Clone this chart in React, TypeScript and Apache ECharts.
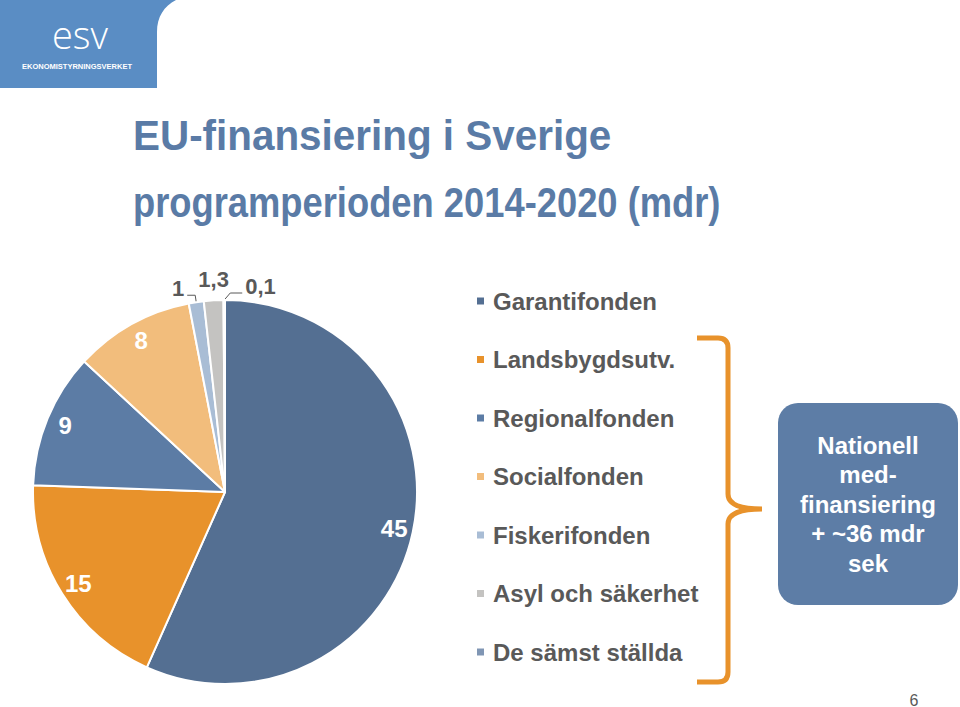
import React, { useEffect, useRef } from "react";
import * as echarts from "echarts";

const categories = [
  "Garantifonden",
  "Landsbygdsutv.",
  "Regionalfonden",
  "Socialfonden",
  "Fiskerifonden",
  "Asyl och säkerhet",
  "De sämst ställda",
];
const values = [45, 15, 9, 8, 1, 1.3, 0.1];
const colors = ["#546F92", "#E8922B", "#5C7CA5", "#F2BD7C", "#A9BDD5", "#C4C3C1", "#8096B4"];
const titleLines = ["EU-finansiering i Sverige", "programperioden 2014-2020 (mdr)"];
const boxLines = ["Nationell", "med-", "finansiering", "+ ~36 mdr", "sek"];
const logoWord = "esv";
const logoName = "EKONOMISTYRNINGSVERKET";
const pageNumber = "6";

const FONT = "'Liberation Sans', Arial, Helvetica, sans-serif";
const CX = 225;
const CY = 492;
const R = 192;

echarts.graphic.registerShape(
  "logoBg",
  echarts.graphic.extendPath("M0,0 L176,0 C164,6 157,17 157,32 L157,88 L0,88 Z", {})
);
echarts.graphic.registerShape(
  "brace",
  echarts.graphic.extendPath(
    "M697,338 L718,338 Q728,338 728,348 L728,494 Q728,509 762,509 Q728,509 728,524 L728,672 Q728,682 718,682 L697,682",
    {}
  )
);

const fmt = (v: number) => String(v).replace(".", ",");

// point on the pie rim at the middle angle of slice i (clockwise from 12 o'clock)
const rimPoint = (i: number, r: number) => {
  const total = values.reduce((s, v) => s + v, 0);
  const before = values.slice(0, i).reduce((s, v) => s + v, 0);
  const ang = ((before + values[i] / 2) / total) * Math.PI * 2;
  return [CX + r * Math.sin(ang), CY - r * Math.cos(ang)];
};

export default function App() {
  const ref = useRef<HTMLDivElement>(null);
  useEffect(() => {
    document.body.style.margin = "0";
    const chart = echarts.init(ref.current!, null, { renderer: "svg" });
    const data = categories.map((name, i) => ({
      name,
      value: values[i],
      itemStyle: { color: colors[i] },
    }));
    const mainData = data.map((d, i) => ({
      ...d,
      label: { show: i >= 4 },
      labelLine: {
        show: i >= 4,
        lineStyle: { opacity: i === 5 ? 0 : 1 },
      },
    }));
    const labelData = data.map((d, i) => ({
      name: d.name,
      value: d.value,
      label: { show: i < 4 },
    }));
    chart.setOption({
      animation: false,
      backgroundColor: "#ffffff",
      legend: {
        orient: "vertical",
        left: 475,
        top: 289,
        padding: 0,
        itemWidth: 9,
        itemHeight: 9,
        itemGap: 34.5,
        icon: "rect",
        selectedMode: false,
        data: categories,
        textStyle: {
          color: "#595959",
          fontSize: 24,
          fontWeight: "bold",
          fontFamily: FONT,
          lineHeight: 24,
          padding: [0, 0, 0, 3],
        },
      },
      series: [
        {
          type: "pie",
          center: [CX, CY],
          radius: R,
          startAngle: 90,
          clockwise: true,
          silent: true,
          avoidLabelOverlap: false,
          emphasis: { disabled: true },
          itemStyle: { borderColor: "#ffffff", borderWidth: 2 },
          label: {
            position: "outside",
            color: "#595959",
            fontSize: 22,
            fontWeight: "bold",
            fontFamily: FONT,
            formatter: (p: any) => fmt(p.value),
          },
          labelLine: {
            length: 7,
            length2: 8,
            smooth: false,
            lineStyle: { color: "#595959", width: 1 },
          },
          labelLayout: (p: any) => {
            const i = p.dataIndex;
            if (i < 4) return {};
            const a = rimPoint(i, R);
            if (i === 6) {
              const m = [a[0] + 6, a[1] - 7];
              const e = [m[0] + 12, m[1]];
              return {
                x: e[0] + 3,
                y: e[1] + 4,
                align: "left",
                verticalAlign: "bottom",
                labelLinePoints: [a, m, e],
              };
            }
            if (i === 5) {
              return {
                x: a[0],
                y: a[1] - 10,
                align: "center",
                verticalAlign: "bottom",
                labelLinePoints: [a, a, a],
              };
            }
            const m = rimPoint(i, R + 7);
            const e = [m[0] - 8, m[1]];
            return {
              x: e[0] - 3,
              y: e[1] + 4,
              align: "right",
              verticalAlign: "bottom",
              labelLinePoints: [a, m, e],
            };
          },
          data: mainData,
        },
        {
          type: "pie",
          center: [CX, CY],
          radius: [148, R],
          startAngle: 90,
          clockwise: true,
          silent: true,
          avoidLabelOverlap: false,
          emphasis: { disabled: true },
          itemStyle: { color: "rgba(0,0,0,0)", borderWidth: 0 },
          label: {
            position: "inside",
            color: "#ffffff",
            fontSize: 24,
            fontWeight: "bold",
            fontFamily: FONT,
            formatter: (p: any) => fmt(p.value),
          },
          labelLine: { show: false },
          data: labelData,
        },
      ],
      graphic: [
        {
          type: "logoBg",
          x: 0,
          y: 0,
          style: { fill: "#5A8DC4" },
          silent: true,
        },
        {
          type: "text",
          x: 80,
          y: 34,
          style: {
            text: logoWord,
            fill: "#ffffff",
            fontSize: 38,
            lineHeight: 32,
            fontWeight: 300,
            fontFamily: "'Open Sans', 'DejaVu Sans', sans-serif",
            align: "center",
            verticalAlign: "middle",
          },
        },
        {
          type: "text",
          x: 77,
          y: 66,
          style: {
            text: logoName,
            fill: "#ffffff",
            fontSize: 7.5,
            fontWeight: "bold",
            fontFamily: FONT,
            align: "center",
            verticalAlign: "middle",
          },
        },
        {
          type: "text",
          x: 133,
          y: 135,
          scaleX: 0.94,
          style: {
            text: titleLines[0],
            fill: "#5A7BA6",
            fontSize: 43,
            fontWeight: "bold",
            fontFamily: FONT,
            align: "left",
            verticalAlign: "middle",
          },
        },
        {
          type: "text",
          x: 133,
          y: 202,
          scaleX: 0.845,
          style: {
            text: titleLines[1],
            fill: "#5A7BA6",
            fontSize: 43,
            fontWeight: "bold",
            fontFamily: FONT,
            align: "left",
            verticalAlign: "middle",
          },
        },
        {
          type: "brace",
          x: 0,
          y: 0,
          style: { fill: null, stroke: "#E8922B", lineWidth: 5 },
          silent: true,
        },
        {
          type: "rect",
          shape: { x: 778, y: 403, width: 180, height: 202, r: 20 },
          style: { fill: "#5D7DA6" },
        },
        {
          type: "text",
          x: 868,
          y: 504,
          style: {
            text: boxLines.join("\n"),
            fill: "#ffffff",
            fontSize: 24,
            fontWeight: "bold",
            fontFamily: FONT,
            lineHeight: 29.5,
            align: "center",
            verticalAlign: "middle",
          },
        },
        {
          type: "text",
          x: 914,
          y: 700,
          style: {
            text: pageNumber,
            fill: "#595959",
            fontSize: 16,
            fontFamily: FONT,
            align: "center",
            verticalAlign: "middle",
          },
        },
      ],
    });
    return () => chart.dispose();
  }, []);
  return (
    <div
      ref={ref}
      style={{ position: "fixed", left: 0, top: 0, width: 960, height: 707, background: "#fff" }}
    />
  );
}
